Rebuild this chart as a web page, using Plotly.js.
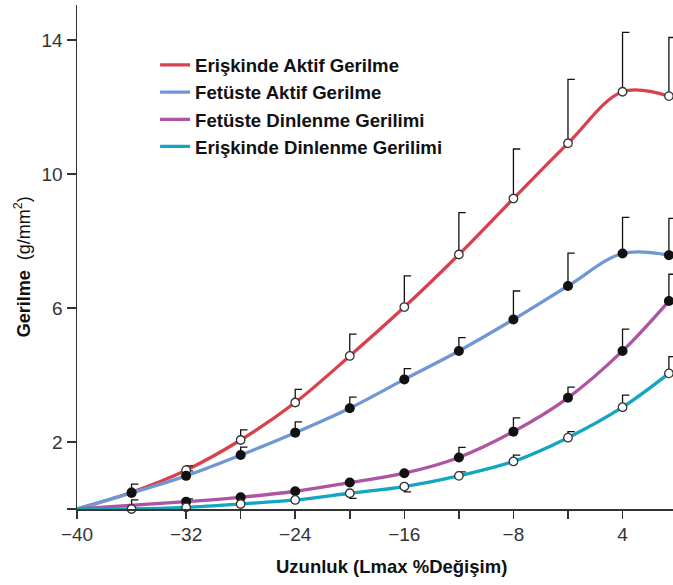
<!DOCTYPE html>
<html>
<head>
<meta charset="utf-8">
<script src="https://cdn.plot.ly/plotly-3.0.1.min.js"></script>
<style>html,body{margin:0;padding:0;background:#fff;overflow:hidden;}</style>
</head>
<body>
<div id="chart" style="width:673px;height:585px;"></div>
<script>
// ---- data ----
const xVals = [-36, -32, -28, -24, -20, -16, -12, -8, -4, 0, 3.4];
const originX = -40;
const originY = 0;

const seriesNames = ["Erişkinde Aktif Gerilme", "Fetüste Aktif Gerilme", "Fetüste Dinlenme Gerilimi", "Erişkinde Dinlenme Gerilimi"];

const adultActive   = [0.50, 1.16, 2.06, 3.18, 4.57, 6.03, 7.60, 9.27, 10.92, 12.46, 12.33];
const adultActiveErr= [0.24, 0.13, 0.30, 0.39, 0.65, 0.93, 1.25, 1.48, 1.91, 1.77, 1.75];

const fetalActive   = [0.48, 0.99, 1.61, 2.28, 3.01, 3.87, 4.72, 5.66, 6.66, 7.63, 7.58];
const fetalActiveErr= [0, 0.15, 0.24, 0.32, 0.33, 0.32, 0.40, 0.85, 0.98, 1.08, 1.10];

const fetalRest     = [null, 0.22, 0.35, 0.53, 0.79, 1.07, 1.54, 2.31, 3.32, 4.72, 6.21];
const fetalRestErr  = [0, 0, 0, 0, 0, 0, 0.30, 0.41, 0.32, 0.65, 0.80];

const adultRest     = [0.00, 0.05, 0.15, 0.27, 0.47, 0.67, 0.99, 1.42, 2.13, 3.04, 4.05];
const adultRestErr  = [0.27, 0.25, 0, 0, -0.15, -0.16, 0.12, 0.19, 0.18, 0.36, 0.50];

const xTickVals = [-40, -32, -24, -16, -8, 0];
const xTickText = ["−40", "−32", "−24", "−16", "−8", "4"];
const xMinorTicks = [-28, -20, -12, -4];
const yTickVals = [2, 6, 10, 14];
const yTickText = ["2", "6", "10", "14"];
const yMinorTicks = [0];

// ---- styles ----
const colors = ["#d8414b", "#6f97d4", "#ad55a0", "#12a6c0"];
const filled = [false, true, true, false];
const allY = [adultActive, fetalActive, fetalRest, adultRest];
const allErr = [adultActiveErr, fetalActiveErr, fetalRestErr, adultRestErr];
const capLen = 0.5;
const FONT = "Liberation Sans, Arial, sans-serif";

function errTrace(ys, errs) {
  const ex = [], ey = [];
  for (let i = 0; i < xVals.length; i++) {
    if (ys[i] === null || !errs[i]) continue;
    const top = ys[i] + errs[i];
    ex.push(xVals[i], xVals[i], xVals[i] + capLen, null);
    ey.push(ys[i], top, top, null);
  }
  return {x: ex, y: ey, mode: "lines", type: "scatter", showlegend: false,
          hoverinfo: "skip", line: {color: "#111", width: 1.3}};
}

const traces = [];
// curves (legend entries)
for (let s = 0; s < 4; s++) {
  traces.push({
    x: [originX].concat(xVals), y: [originY].concat(allY[s]),
    mode: "lines", type: "scatter", name: seriesNames[s], connectgaps: true,
    line: {color: colors[s], width: 3.3, shape: "spline", smoothing: 1},
    cliponaxis: true
  });
}
// error bars
for (let s = 0; s < 4; s++) traces.push(errTrace(allY[s], allErr[s]));
// markers
for (let s = 0; s < 4; s++) {
  traces.push({
    x: xVals, y: allY[s], mode: "markers", type: "scatter", showlegend: false,
    cliponaxis: false,
    marker: filled[s]
      ? {size: 10, color: "#111", line: {color: "#111", width: 0}}
      : {size: 8.5, color: "#ffffff", line: {color: "#333", width: 1.3}}
  });
}

const layout = {
  width: 673, height: 585,
  margin: {l: 77, r: 0, t: 5, b: 76, pad: 0},
  paper_bgcolor: "#fff", plot_bgcolor: "#fff",
  font: {family: FONT, color: "#222"},
  showlegend: true,
  legend: {
    x: 0.131, y: 0.918, xanchor: "left", yanchor: "top",
    bgcolor: "rgba(0,0,0,0)", borderwidth: 0,
    font: {family: FONT, size: 18.6, weight: "bold", color: "#111"},
    itemwidth: 30, traceorder: "normal"
  },
  xaxis: {
    range: [-40, 3.7], showgrid: false, zeroline: false,
    showline: true, linecolor: "#333", linewidth: 1.5,
    ticks: "outside", ticklen: 8, tickwidth: 1.5, tickcolor: "#333",
    tickmode: "array", tickvals: xTickVals, ticktext: xTickText,
    tickfont: {family: FONT, size: 19, color: "#333"},
    minor: {tickmode: "array", tickvals: xMinorTicks, ticks: "outside", ticklen: 8,
            tickwidth: 1.5, tickcolor: "#333", showgrid: false}
  },
  yaxis: {
    range: [0, 15.05], showgrid: false, zeroline: false,
    showline: true, linecolor: "#333", linewidth: 1.5,
    ticks: "outside", ticklen: 9, tickwidth: 1.5, tickcolor: "#333",
    tickmode: "array", tickvals: yTickVals, ticktext: yTickText,
    tickfont: {family: FONT, size: 19, color: "#333"},
    minor: {tickmode: "array", tickvals: yMinorTicks, ticks: "outside", ticklen: 9,
            tickwidth: 1.5, tickcolor: "#333", showgrid: false}
  },
  annotations: [
    {text: "<b>Uzunluk (Lmax %Değişim)</b>", xref: "paper", yref: "paper",
     x: 0.5285, y: -0.115, xanchor: "center", yanchor: "middle", showarrow: false,
     font: {family: FONT, size: 18.5, color: "#111"}},
    {text: "<b>Gerilme</b>  (g/mm<sup>2</sup>)", xref: "paper", yref: "paper",
     x: -0.092, y: 0.48, xanchor: "center", yanchor: "middle", showarrow: false,
     textangle: -90, font: {family: FONT, size: 18, color: "#111"}}
  ]
};

Plotly.newPlot("chart", traces, layout, {displayModeBar: false, staticPlot: true});
</script>
</body>
</html>
